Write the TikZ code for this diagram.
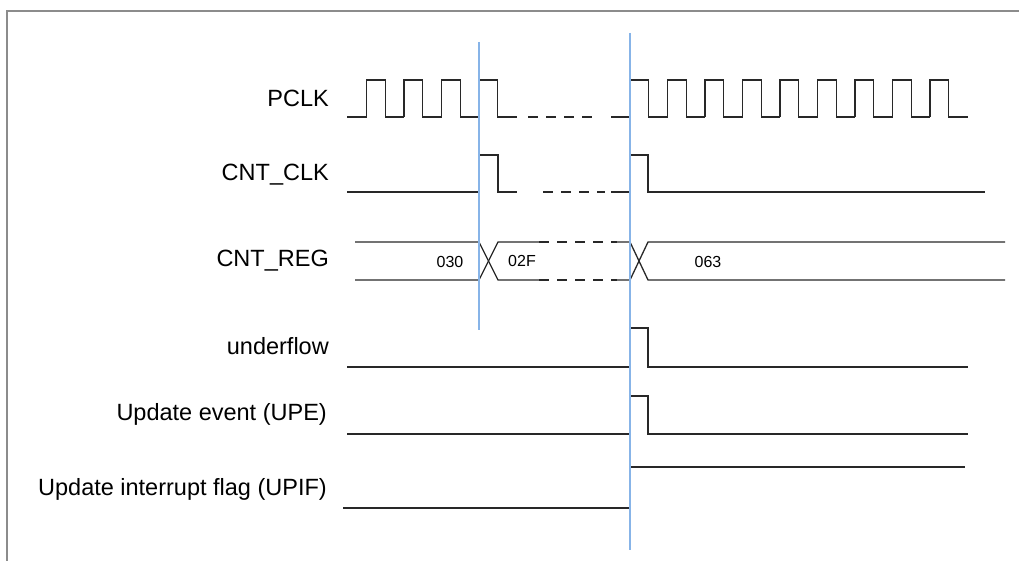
\documentclass[tikz,border=0pt]{standalone}
\usepackage{fontspec}
\setmainfont{Liberation Sans}
\usepackage{xcolor}
\usepackage{tikz}
\usetikzlibrary{positioning}

\definecolor{markblue}{RGB}{135,180,232}
\definecolor{framegray}{RGB}{140,140,140}
\definecolor{wave}{RGB}{40,40,40}

\begin{document}
\begin{tikzpicture}[
    x=1pt, y=-1pt,
    lbl/.style={
        anchor=east,
        inner sep=0pt,
        font=\fontsize{23.5}{26}\selectfont
    },
    val/.style={
        inner sep=0pt,
        font=\fontsize{16}{18}\selectfont
    },
    sig/.style={draw=wave, line width=1.3pt},
    gap/.style={sig, dash pattern=on 10pt off 8pt},
    marker/.style={draw=markblue, line width=1.6pt}
]

\useasboundingbox (0,0) rectangle (1019,561);

% ============================================================
% MARCO
% ============================================================
\draw[framegray, line width=1.5pt] (7,561) -- (7,11) -- (1019,11);

% ============================================================
% ETIQUETAS
% ============================================================
\node[lbl] (pclk)   at (329,98)  {PCLK};
\node[lbl] (cntclk) at (329,175) {CNT\_CLK};
\node[lbl] (cntreg) at (329,261) {CNT\_REG};
\node[lbl] (uflow)  at (329,346) {underflow};
\node[lbl] (upe)    at (327,414) {Update event (UPE)};
\node[lbl] (upif)   at (327,489) {Update interrupt flag (UPIF)};

% ============================================================
% PCLK
% ============================================================
\draw[sig] (347,117) -- (366.5,117);
\foreach \r in {366.5,404,441.5,479} {
    \draw[sig] (\r,117) -- (\r,80) -- ++(18.75,0) -- ++(0,37) -- ++(18.75,0);
}
\draw[gap] (528,117) -- (598,117);
\draw[sig] (611,117) -- (630,117);
\foreach \r in {630,667.5,705,742.5,780,817.5,855,892.5,930} {
    \draw[sig] (\r,117) -- (\r,80) -- ++(18.75,0) -- ++(0,37) -- ++(18.75,0);
}

% ============================================================
% CNT_CLK
% ============================================================
\draw[sig] (347,192) -- (479,192) -- (479,155) -- (498,155) -- (498,192) -- (517,192);
\draw[gap] (543,192) -- (605,192);
\draw[sig] (611,192) -- (630,192) -- (630,155) -- (648,155) -- (648,192) -- (985,192);

% ============================================================
% CNT_REG
% ============================================================
\draw[sig] (355,242) -- (479,242) -- (498,280) -- (539,280);
\draw[sig] (355,280) -- (479,280) -- (498,242) -- (539,242);
\draw[gap] (539,242) -- (617,242);
\draw[gap] (539,280) -- (617,280);
\draw[sig] (617,242) -- (630,242) -- (648,280) -- (1005,280);
\draw[sig] (617,280) -- (630,280) -- (648,242) -- (1005,242);

\node[val] (v030) at (450,262) {030};
\node[val] (v02f) at (522,261) {02F};
\node[val] (v063) at (708,262) {063};

% ============================================================
% UNDERFLOW / UPE / UPIF
% ============================================================
\draw[sig] (347,367) -- (630,367) -- (630,328) -- (648,328) -- (648,367) -- (968,367);
\draw[sig] (347,434) -- (630,434) -- (630,396) -- (648,396) -- (648,434) -- (968,434);
\draw[sig] (343,508) -- (630,508) -- (630,467) -- (965,467);

% ============================================================
% MARCADORES
% ============================================================
\draw[marker] (479,42) -- (479,330);
\draw[marker] (630,33) -- (630,550);

\end{tikzpicture}
\end{document}
